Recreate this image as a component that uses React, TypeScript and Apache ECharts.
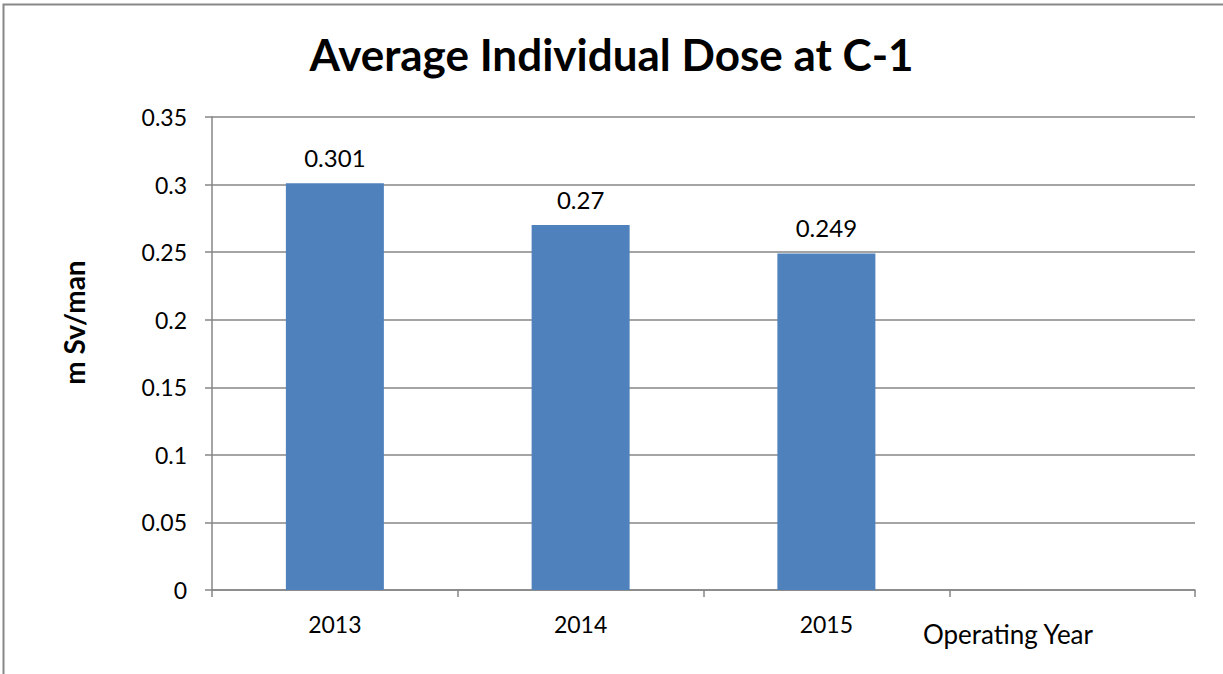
import React, { useEffect, useRef } from "react";
import * as echarts from "echarts";

const titleText = "Average Individual Dose at C-1";
const categories = ["2013", "2014", "2015", ""];
const doseValues = [0.301, 0.27, 0.249, null];
const yAxisName = "m Sv/man";
const xAxisName = "Operating Year";

const FONT = "Lato, 'Open Sans', sans-serif";

export default function App() {
  const ref = useRef<HTMLDivElement>(null);
  useEffect(() => {
    const chart = echarts.init(ref.current!, undefined, { renderer: "svg" });
    chart.setOption({
      animation: false,
      backgroundColor: "#ffffff",
      textStyle: { fontFamily: FONT, color: "#000" },
      title: {
        text: titleText,
        left: "center",
        top: 27,
        textStyle: { fontFamily: FONT, fontSize: 44, fontWeight: "bold", color: "#000" },
      },
      graphic: [
        {
          type: "rect",
          shape: { x: 3.5, y: 4.5, width: 1240, height: 700 },
          style: { fill: "none", stroke: "#888888", lineWidth: 2 },
          silent: true,
        },
      ],
      grid: { left: 212, right: 28, top: 117, bottom: 84, containLabel: false },
      xAxis: {
        type: "category",
        data: categories,
        name: xAxisName,
        nameLocation: "end",
        nameGap: -102,
        nameTextStyle: {
          fontFamily: FONT,
          fontSize: 26,
          color: "#000",
          align: "right",
          verticalAlign: "top",
          padding: [31, 0, 0, 0],
        },
        axisLine: { lineStyle: { color: "#868686", width: 1.5 } },
        axisTick: { show: true, length: 7, lineStyle: { color: "#868686", width: 1.5 } },
        axisLabel: { fontFamily: FONT, fontSize: 23, color: "#000", margin: 22 },
      },
      yAxis: {
        type: "value",
        min: 0,
        max: 0.35,
        interval: 0.05,
        name: yAxisName,
        nameLocation: "middle",
        nameGap: 124,
        nameTextStyle: {
          fontFamily: FONT,
          fontSize: 28,
          fontWeight: "bold",
          color: "#000",
          padding: [0, 0, 0, 62],
        },
        axisLine: { show: true, lineStyle: { color: "#868686", width: 1.5 } },
        axisTick: { show: true, length: 7, lineStyle: { color: "#868686", width: 1.5 } },
        axisLabel: {
          fontFamily: FONT,
          fontSize: 23,
          color: "#000",
          margin: 25,
          formatter: (v: number) => String(parseFloat(v.toFixed(2))),
        },
        splitLine: { lineStyle: { color: "#868686", width: 1.5 } },
      },
      series: [
        {
          type: "bar",
          data: doseValues,
          barWidth: 98,
          itemStyle: { color: "#4F81BD" },
          label: {
            show: true,
            position: "top",
            distance: 14,
            fontFamily: FONT,
            fontSize: 24,
            color: "#000",
          },
        },
      ],
    });
    return () => chart.dispose();
  }, []);
  return (
    <div
      ref={ref}
      style={{ position: "fixed", left: 0, top: 0, width: 1223, height: 674 }}
    />
  );
}
